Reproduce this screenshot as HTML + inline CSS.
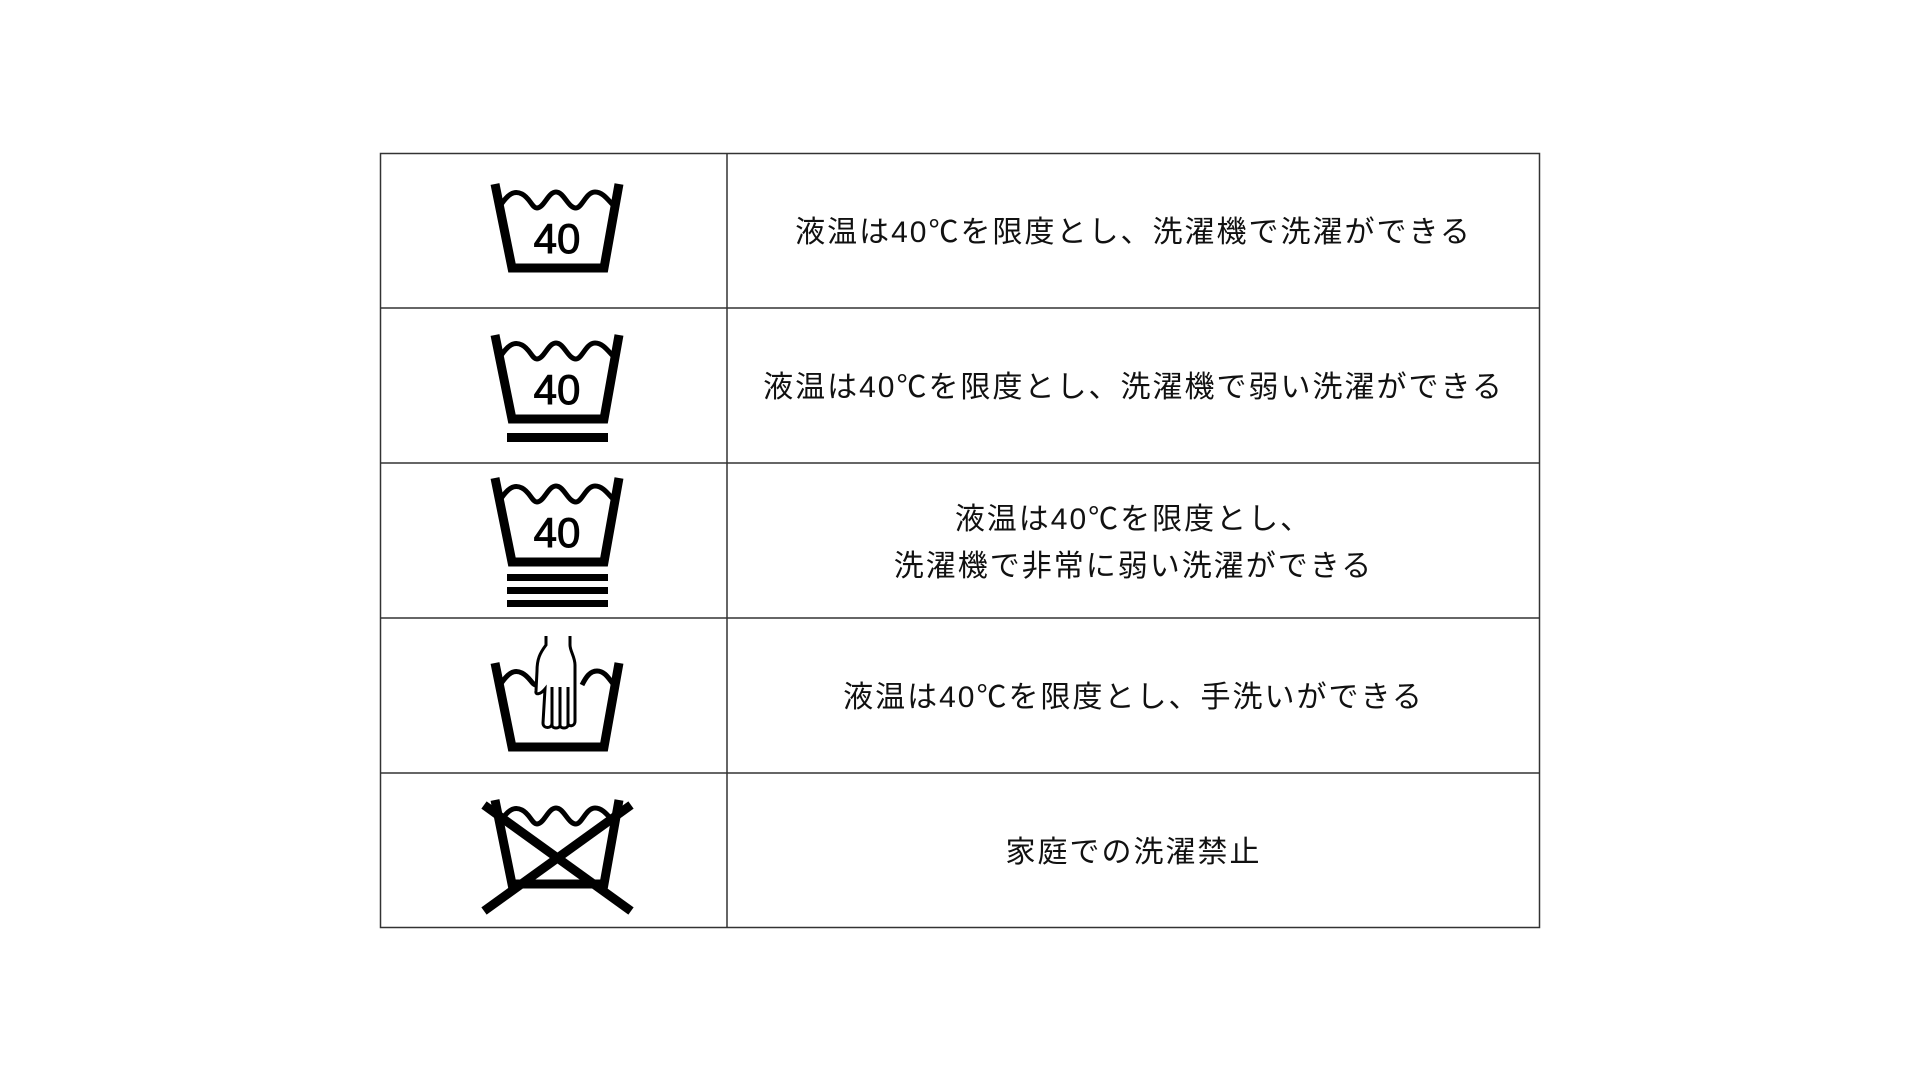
<!DOCTYPE html>
<html><head><meta charset="utf-8"><style>
body{margin:0;width:1920px;height:1080px;background:#fff;overflow:hidden;position:relative;font-family:"Liberation Sans","Noto Sans CJK JP",sans-serif;}
.t{position:absolute;left:727px;width:813px;text-align:center;font-size:30px;color:#111;letter-spacing:2px;line-height:47px;}
svg{position:absolute;left:0;top:0}
</style></head><body>
<svg width="1920" height="1080">
<defs>
<g id="tub"><path d="M495,0 L512,84 L604,84 L619,0" fill="none" stroke="#000" stroke-width="9"/></g>
<g id="wave"><path d="M500,22 C508,10 514,6 522,10 C530,14 532,24 537,24 C544,24 548,8 556,8 C564,8 568,24 576,24 C582,24 586,8 595,8 C603,8 608,16 614,22" fill="none" stroke="#000" stroke-width="5"/></g>
<g id="n"><text x="557" y="69" text-anchor="middle" font-size="42" font-family="Liberation Sans" stroke="#000" stroke-width="1">40</text></g>
</defs>
<g fill="none" stroke="#333" stroke-width="1.5">
<rect x="380.5" y="153.5" width="1159" height="774"/>
<line x1="727" y1="153" x2="727" y2="928"/>
<line x1="380" y1="308" x2="1540" y2="308"/>
<line x1="380" y1="463" x2="1540" y2="463"/>
<line x1="380" y1="618" x2="1540" y2="618"/>
<line x1="380" y1="773" x2="1540" y2="773"/>
</g>
<g transform="translate(0,184)"><use href="#tub"/><use href="#wave"/><use href="#n"/></g>
<g transform="translate(0,335)"><use href="#tub"/><use href="#wave"/><use href="#n"/></g>
<rect x="507" y="433" width="101" height="9"/>
<g transform="translate(0,478)"><use href="#tub"/><use href="#wave"/><use href="#n"/></g>
<rect x="507" y="574" width="101" height="7"/>
<rect x="507" y="587" width="101" height="7"/>
<rect x="507" y="600" width="101" height="7"/>
<g transform="translate(0,663)"><use href="#tub"/>
<path d="M500,22 C508,10 514,6 522,10 C530,14 532,22 536,22" fill="none" stroke="#000" stroke-width="5"/>
<path d="M582,22 C586,14 590,8 597,8 C605,8 609,16 614,22" fill="none" stroke="#000" stroke-width="5"/>
<path d="M546,-27 L546,-18 C540,-10 537,-4 537,8 L536,28 C535,32 540,32 545,26 L543,60 C543,66 552,66 552,60 L552,24 L552,62 C552,66 560,66 560,62 L560,24 L560,62 C560,66 568,66 568,62 L568,24 L568,60 C568,64 575,64 575,58 L575,2 C575,-6 570,-12 570,-18 L570,-27" fill="#fff" stroke="#000" stroke-width="3"/>
</g>
<g transform="translate(0,800)"><use href="#tub"/><use href="#wave"/></g>
<line x1="484" y1="805" x2="631" y2="911" stroke="#000" stroke-width="9"/>
<line x1="631" y1="805" x2="484" y2="911" stroke="#000" stroke-width="9"/>
</svg>
<div class="t" style="top:209px">液温は40℃を限度とし、洗濯機で洗濯ができる</div>
<div class="t" style="top:364px">液温は40℃を限度とし、洗濯機で弱い洗濯ができる</div>
<div class="t" style="top:496px">液温は40℃を限度とし、<br>洗濯機で非常に弱い洗濯ができる</div>
<div class="t" style="top:674px">液温は40℃を限度とし、手洗いができる</div>
<div class="t" style="top:829px">家庭での洗濯禁止</div>
</body></html>
